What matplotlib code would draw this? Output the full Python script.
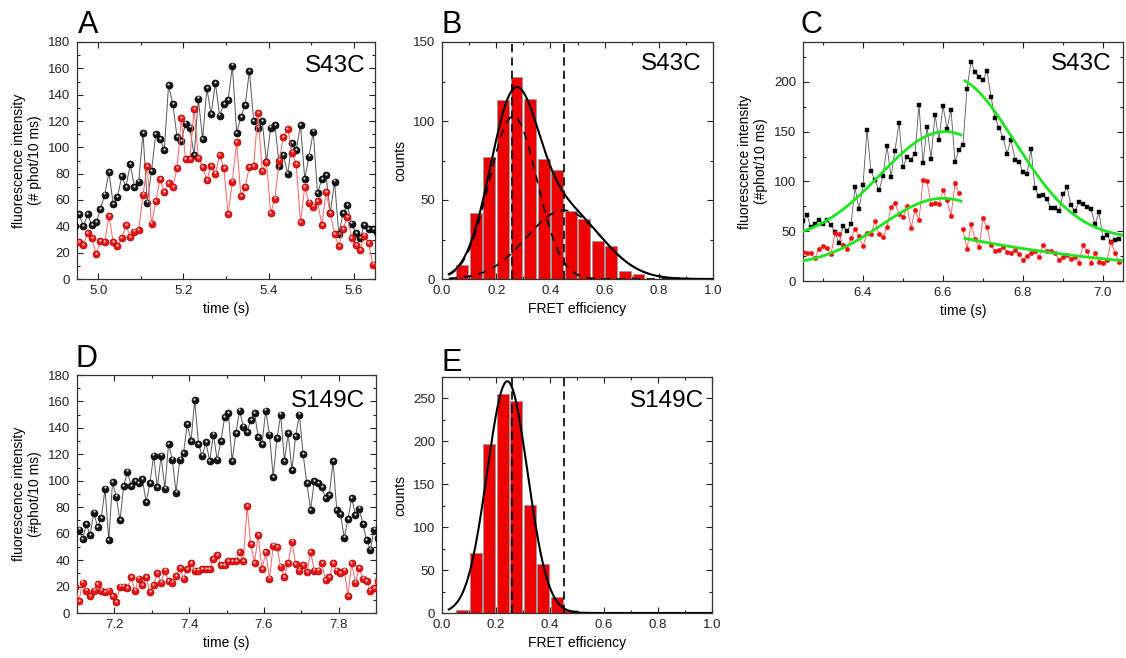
import numpy as np
import matplotlib
matplotlib.use('Agg')
import matplotlib.pyplot as plt
from matplotlib.ticker import MultipleLocator, FormatStrFormatter
from matplotlib.transforms import offset_copy

plt.rcParams['font.family'] = ['Liberation Sans', 'DejaVu Sans']

bin_s = 0.01  # 10 ms time bins

# A: S43C burst (black / red channel), first bin at a_t0
a_t0 = 4.945
a_black = [40, 49, 40, 49, 41, 43, 53, 64, 81, 57, 62, 78, 70, 87, 70, 74, 111, 58, 82, 110,
           106, 98, 147, 133, 108, 105, 118, 115, 94, 137, 106, 145, 125, 149, 124, 133, 136, 162, 111, 123,
           132, 158, 120, 115, 120, 89, 115, 117, 86, 94, 80, 103, 98, 117, 76, 93, 112, 65, 76, 79,
           50, 74, 34, 50, 56, 42, 35, 31, 41, 38, 38, 36]
a_red = [27, 28, 26, 35, 31, 19, 29, 28, 48, 28, 25, 31, 41, 32, 36, 37, 64, 86, 42, 59,
         76, 66, 73, 70, 84, 122, 91, 91, 129, 92, 85, 75, 86, 80, 94, 84, 49, 74, 104, 63,
         70, 85, 86, 126, 82, 89, 50, 61, 90, 108, 114, 96, 87, 43, 70, 58, 55, 59, 41, 66,
         50, 34, 25, 38, 47, 31, 26, 22, 33, 27, 11, 11]

# B: S43C FRET histogram
b_centers = [0.075, 0.125, 0.175, 0.225, 0.275, 0.325, 0.375, 0.425, 0.475, 0.525, 0.575, 0.625, 0.675, 0.725]
b_counts = [9, 42, 77, 113, 128, 114, 76, 69, 43, 38, 24, 21, 5, 3]
b_fit1 = [103, 0.263, 0.088]   # amplitude, centre, sigma
b_fit2 = [43.5, 0.45, 0.138]

# C: S43C burst with fits
c_t0 = 6.25
c_black = [60, 66, 54, 57, 61, 57, 61, 56, 49, 38, 55, 50, 57, 94, 72, 96, 152, 110, 101, 91,
           105, 136, 104, 131, 159, 114, 125, 122, 128, 177, 118, 155, 123, 167, 142, 176, 153, 172, 120,
           132, 137, 193, 220, 210, 205, 202, 211, 185, 164, 154, 144, 128, 142, 122, 120, 109, 107, 133, 93,
           85, 86, 82, 73, 73, 70, 87, 94, 76, 70, 79, 77, 74, 72, 57, 69, 43, 46, 39, 41, 42]
c_red_1 = [29, 28, 28, 23, 32, 35, 33, 27, 48, 47, 36, 32, 43, 52, 45, 35, 48, 47, 60, 47,
           44, 54, 74, 78, 67, 64, 75, 53, 71, 61, 101, 100, 77, 78, 77, 91, 81, 65, 98, 88]
c_red_2 = [52, 32, 57, 42, 34, 63, 54, 36, 30, 31, 34, 29, 28, 31, 27, 21, 25, 28, 30, 24,
           36, 30, 30, 28, 21, 24, 26, 22, 24, 18, 36, 30, 18, 28, 19, 18, 21, 39, 28, 19]
c_split = [6.645, 6.655]
# fits: baseline, amplitude, centre, sigma
c_fit_black_up = [40, 110, 6.605, 0.162]
c_fit_red_up = [15, 68, 6.60, 0.154]
c_fit_black_down = [42, 163, 6.62, 0.158]
c_fit_red_down = [42.7, 6.656, 0.53]   # amplitude, start, decay time

# D: S149C burst
d_t0_black = 7.105
d_t0_red = 7.095
d_black = [63, 56, 67, 59, 76, 65, 72, 94, 55, 99, 88, 70, 96, 107, 96, 100, 98, 101, 84, 98,
           119, 95, 119, 94, 128, 116, 91, 116, 121, 143, 130, 161, 128, 119, 129, 115, 135, 116, 130, 148,
           151, 115, 136, 153, 141, 137, 146, 151, 133, 128, 153, 135, 103, 132, 150, 115, 136, 108, 134, 150,
           120, 98, 78, 100, 98, 95, 87, 89, 115, 78, 75, 57, 71, 87, 74, 79, 67, 55, 48, 63, 57]
d_red = [20, 9, 23, 17, 13, 17, 22, 17, 16, 17, 13, 8, 20, 20, 19, 27, 17, 26, 21, 27, 16,
         21, 30, 23, 32, 24, 23, 28, 34, 26, 33, 38, 32, 32, 33, 33, 33, 41, 44, 36, 36, 39,
         39, 39, 46, 39, 81, 52, 38, 59, 33, 46, 26, 51, 50, 35, 27, 38, 54, 37, 32, 36,
         31, 46, 32, 32, 38, 25, 27, 38, 32, 30, 32, 13, 38, 23, 34, 26, 24, 17, 19, 24]

# E: S149C FRET histogram
e_centers = [0.075, 0.125, 0.175, 0.225, 0.275, 0.325, 0.375, 0.425, 0.475]
e_counts = [4, 70, 197, 255, 247, 126, 57, 19, 4]
e_fit = [270, 0.242, 0.075]

fret_marks = [0.26, 0.45]


def gauss(x, a, mu, s, c=0.0):
    return c + a * np.exp(-(x - mu) ** 2 / (2 * s ** 2))


def times(t0, vals):
    return t0 + bin_s * np.arange(len(vals))


def style(ax, xmaj, xmin, ymaj, ymin, xfmt='%.1f'):
    ax.xaxis.set_major_locator(MultipleLocator(xmaj))
    ax.xaxis.set_minor_locator(MultipleLocator(xmin))
    ax.yaxis.set_major_locator(MultipleLocator(ymaj))
    ax.yaxis.set_minor_locator(MultipleLocator(ymin))
    ax.xaxis.set_major_formatter(FormatStrFormatter(xfmt))
    ax.tick_params(which='both', direction='in', top=True, right=True,
                   labelsize=9.5, colors='#222222', width=0.8)
    ax.tick_params(which='major', length=4)
    ax.tick_params(which='minor', length=2)
    ax.tick_params(axis='y', pad=5)
    ax.tick_params(axis='x', pad=4)
    for sp in ax.spines.values():
        sp.set_linewidth(0.9)
        sp.set_color('#333333')


def balls(ax, t, v, face, edge, line, z):
    ax.plot(t, v, '-', color=line, lw=0.7, zorder=z)
    ax.plot(t, v, 'o', ms=5, mfc=face, mec=edge, mew=0.5, zorder=z + 1)
    hl = offset_copy(ax.transData, fig=ax.figure, x=-0.2, y=0.9, units='points')
    ax.plot(t, v, 'o', ms=1.6, mfc='white', mec='none', alpha=0.85,
            transform=hl, zorder=z + 2)


fig = plt.figure(figsize=(11.26, 6.58), dpi=100)
W, H = 1126.0, 658.0


def axes_px(left, top, right, bottom):
    return fig.add_axes([left / W, 1 - bottom / H, (right - left) / W, (bottom - top) / H])


ax_a = axes_px(77, 42, 375, 279)
ax_b = axes_px(442, 42, 713, 279)
ax_c = axes_px(803, 42, 1123, 281)
ax_d = axes_px(77, 375, 376, 613)
ax_e = axes_px(442, 377, 712, 613)

lab_fs = 10
tag_fs = 17.5

# ---- A
balls(ax_a, times(a_t0, a_black), a_black, '#151515', '#000000', '#555555', 2)
balls(ax_a, times(a_t0, a_red), a_red, '#f01515', '#a00000', '#ff6060', 5)
ax_a.set_xlim(4.95, 5.65)
ax_a.set_ylim(0, 180)
style(ax_a, 0.2, 0.1, 20, 10)
ax_a.set_xlabel('time (s)', fontsize=lab_fs)
ax_a.set_ylabel('fluorescence intensity\n(# phot/10 ms)', fontsize=lab_fs)
ax_a.text(0.969, 0.875, 'S43C', transform=ax_a.transAxes, ha='right', va='baseline', fontsize=tag_fs)

# ---- B
ax_b.bar(b_centers, b_counts, width=0.044, color='#ee0000', edgecolor='#9a9a9a', lw=0.6, zorder=2)
xf = np.linspace(0.025, 1.0, 400)
g1 = gauss(xf, *b_fit1)
g2 = gauss(xf, *b_fit2)
ax_b.plot(xf, g1, color='black', lw=1.2, ls=(0, (5, 4)), zorder=3)
ax_b.plot(xf, g2, color='black', lw=1.2, ls=(0, (5, 4)), zorder=3)
ax_b.plot(xf, g1 + g2, color='black', lw=1.5, zorder=4)
for m in fret_marks:
    ax_b.axvline(m, color='black', lw=1.2, ls=(0, (5, 3)), zorder=4)
ax_b.set_xlim(0, 1)
ax_b.set_ylim(0, 150)
style(ax_b, 0.2, 0.1, 50, 25)
ax_b.set_xlabel('FRET efficiency', fontsize=lab_fs)
ax_b.set_ylabel('counts', fontsize=lab_fs)
ax_b.text(0.959, 0.881, 'S43C', transform=ax_b.transAxes, ha='right', va='baseline', fontsize=tag_fs)

# ---- C
tc = times(c_t0, c_black)
ax_c.plot(tc, c_black, '-', color='#555555', lw=0.6, zorder=2)
ax_c.plot(tc, c_black, 's', ms=3, mfc='black', mec='black', mew=0.3, zorder=3)
t_r1 = times(c_t0, c_red_1)
t_r2 = times(c_t0 + bin_s * len(c_red_1), c_red_2)
for tr, vr in ((t_r1, c_red_1), (t_r2, c_red_2)):
    ax_c.plot(tr, vr, '-', color='#ff5050', lw=0.6, zorder=4)
    ax_c.plot(tr, vr, 'o', ms=3.2, mfc='#f01010', mec='#f01010', mew=0.3, zorder=5)
tu = np.linspace(c_t0, c_split[0], 200)
td = np.linspace(c_split[1], 7.05, 200)
c0, a0, m0, s0 = c_fit_black_up
ax_c.plot(tu, gauss(tu, a0, m0, s0, c0), color='#1ee61e', lw=2, zorder=6)
c0, a0, m0, s0 = c_fit_red_up
ax_c.plot(tu, gauss(tu, a0, m0, s0, c0), color='#1ee61e', lw=2, zorder=6)
c0, a0, m0, s0 = c_fit_black_down
ax_c.plot(td, gauss(td, a0, m0, s0, c0), color='#1ee61e', lw=2, zorder=6)
a0, t00, tau = c_fit_red_down
ax_c.plot(td, a0 * np.exp(-(td - t00) / tau), color='#1ee61e', lw=2, zorder=6)
ax_c.set_xlim(6.25, 7.05)
ax_c.set_ylim(0, 240)
style(ax_c, 0.2, 0.1, 50, 25)
ax_c.set_xlabel('time (s)', fontsize=lab_fs)
ax_c.set_ylabel('fluorescence intensity\n(#phot/10 ms)', fontsize=lab_fs)
ax_c.text(0.964, 0.882, 'S43C', transform=ax_c.transAxes, ha='right', va='baseline', fontsize=tag_fs)

# ---- D
balls(ax_d, times(d_t0_black, d_black), d_black, '#151515', '#000000', '#555555', 2)
balls(ax_d, times(d_t0_red, d_red), d_red, '#f01515', '#a00000', '#ff6060', 5)
ax_d.set_xlim(7.1, 7.9)
ax_d.set_ylim(0, 180)
style(ax_d, 0.2, 0.1, 20, 10)
ax_d.set_xlabel('time (s)', fontsize=lab_fs)
ax_d.set_ylabel('fluorescence intensity\n(#phot/10 ms)', fontsize=lab_fs)
ax_d.text(0.963, 0.867, 'S149C', transform=ax_d.transAxes, ha='right', va='baseline', fontsize=tag_fs)

# ---- E
ax_e.bar(e_centers, e_counts, width=0.044, color='#ee0000', edgecolor='#9a9a9a', lw=0.6, zorder=2)
ax_e.plot(xf, gauss(xf, *e_fit), color='black', lw=1.5, zorder=4)
for m in fret_marks:
    ax_e.axvline(m, color='black', lw=1.2, ls=(0, (5, 3)), zorder=4)
ax_e.set_xlim(0, 1)
ax_e.set_ylim(0, 275)
style(ax_e, 0.2, 0.1, 50, 25)
ax_e.set_xlabel('FRET efficiency', fontsize=lab_fs)
ax_e.set_ylabel('counts', fontsize=lab_fs)
ax_e.text(0.969, 0.871, 'S149C', transform=ax_e.transAxes, ha='right', va='baseline', fontsize=tag_fs)

# panel letters
for letter, x, y in (('A', 78, 33), ('B', 441, 33), ('C', 801, 33), ('D', 76, 367), ('E', 442, 371)):
    fig.text(x / W, 1 - y / H, letter, fontsize=22, ha='left', va='baseline')

fig.savefig('out.png', dpi=100)
